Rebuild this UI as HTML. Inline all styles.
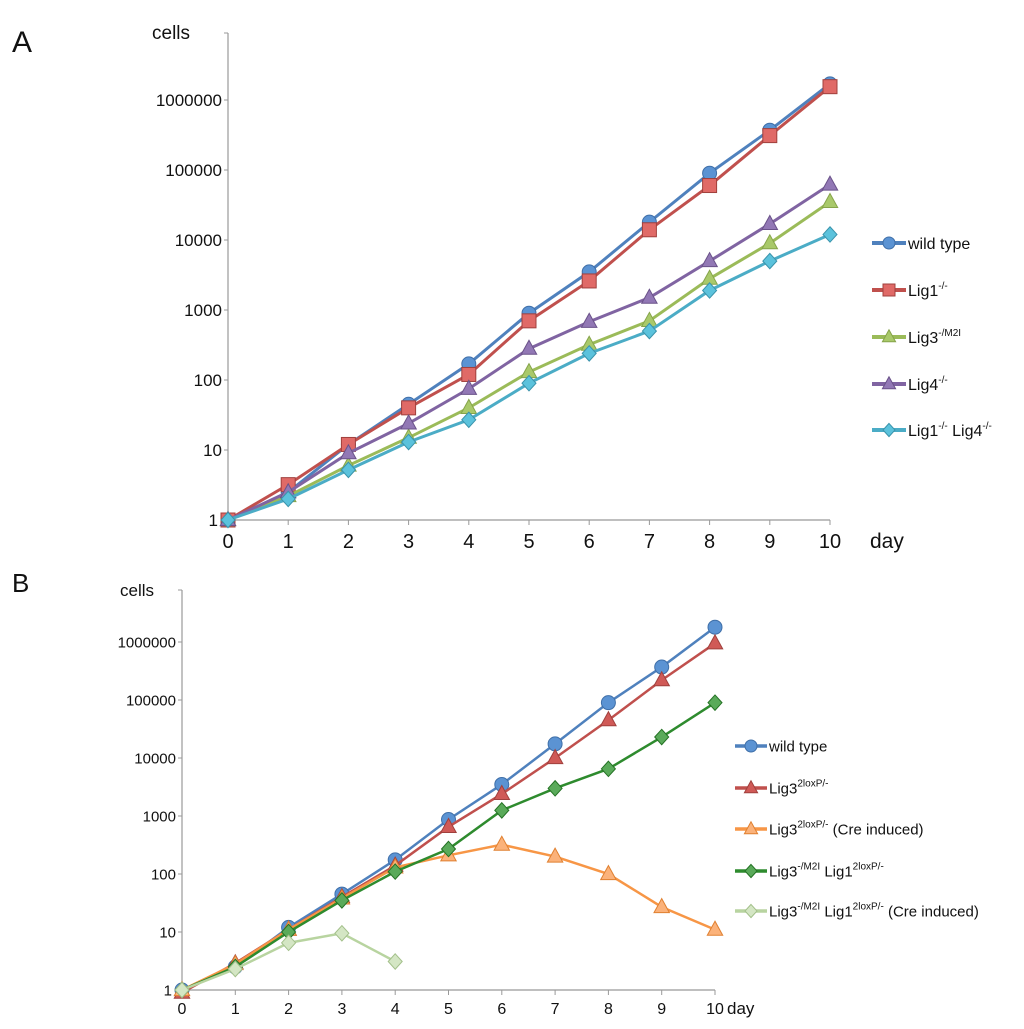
<!DOCTYPE html>
<html><head><meta charset="utf-8">
<style>
html,body{margin:0;padding:0;background:#fff;}
svg{display:block;font-family:"Liberation Sans",sans-serif;}
</style></head>
<body>
<svg id="fig" width="1024" height="1029" viewBox="0 0 1024 1029" xmlns="http://www.w3.org/2000/svg">
<text x="12" y="52" font-size="30" fill="#111">A</text>
<text x="12" y="592" font-size="26" fill="#111">B</text>
<g id="pa"></g>
<g id="pb"></g>
</svg>
<script>
const days = [0,1,2,3,4,5,6,7,8,9,10];
const yTicks = [1,10,100,1000,10000,100000,1000000];
// Panel A series
const aWild = [1,2.5,12,45,170,900,3500,18000,90000,370000,1700000];
const aLig1 = [1,3.2,12,40,120,700,2600,14000,60000,310000,1550000];
const aLig3 = [1,2.2,6,15,40,130,320,700,2800,9000,35000];
const aLig4 = [1,2.5,9,24,75,280,680,1500,5000,17000,62000];
const aLig1Lig4 = [1,2,5.2,13,27,90,240,500,1900,5000,12000];
// Panel B series
const bWild = [1,2.5,12,45,175,870,3500,17500,90000,370000,1800000];
const bLig3lox = [0.9,2.9,11,40,140,650,2400,10000,45000,220000,950000];
const bLig3Cre = [1,2.8,11,38,130,210,320,200,100,27,11];
const bLig3Lig1 = [1,2.5,10,35,110,270,1250,3000,6500,23000,90000];
const bLig3Lig1Cre = [1,2.3,6.5,9.5,3.1];

const NS="http://www.w3.org/2000/svg";
function mk(parent,tag,attrs){const e=document.createElementNS(NS,tag);for(const k in attrs)e.setAttribute(k,attrs[k]);parent.appendChild(e);return e;}

function marker(g,shape,x,y,s,fill,stroke){
  let e;
  if(shape==='circle'){e=mk(g,'circle',{cx:x,cy:y,r:s,fill:fill,stroke:stroke,'stroke-width':1});}
  else if(shape==='square'){e=mk(g,'rect',{x:x-s,y:y-s,width:2*s,height:2*s,fill:fill,stroke:stroke,'stroke-width':1});}
  else if(shape==='triangle'){e=mk(g,'polygon',{points:`${x},${y-s*1.2} ${x-s*1.1},${y+s*0.8} ${x+s*1.1},${y+s*0.8}`,fill:fill,stroke:stroke,'stroke-width':1});}
  else {e=mk(g,'polygon',{points:`${x},${y-s*1.1} ${x+s},${y} ${x},${y+s*1.1} ${x-s},${y}`,fill:fill,stroke:stroke,'stroke-width':1});}
  return e;
}

function chart(g,cfg){
  const X=d=>cfg.x0+d*(cfg.x1-cfg.x0)/10;
  const Y=v=>cfg.y1-Math.log10(v)*cfg.dec;
  const ya=mk(g,'line',{x1:cfg.x0,y1:cfg.top,x2:cfg.x0,y2:cfg.y1,stroke:'#999','stroke-width':1.2});
  
  
  const xa=mk(g,'line',{x1:cfg.x0,y1:cfg.y1,x2:cfg.x1,y2:cfg.y1,stroke:'#999','stroke-width':1.2});
  
  
  mk(g,'line',{x1:cfg.x0-4,y1:cfg.top,x2:cfg.x0,y2:cfg.top,stroke:'#999'});
  yTicks.forEach(v=>{
    mk(g,'line',{x1:cfg.x0-4,y1:Y(v),x2:cfg.x0,y2:Y(v),stroke:'#999'});
    const t=mk(g,'text',{x:cfg.x0-(v===1?10:6),y:Y(v)+cfg.fs*0.36,'text-anchor':'end','font-size':cfg.fs,fill:'#111'});
    t.textContent=String(v);
    
    
  });
  days.forEach(d=>{
    mk(g,'line',{x1:X(d),y1:cfg.y1,x2:X(d),y2:cfg.y1+5,stroke:'#999'});
    const t=mk(g,'text',{x:X(d),y:cfg.y1+cfg.xfs+8,'text-anchor':'middle','font-size':cfg.xfs,fill:'#111'});
    t.textContent=String(d);
    
    
  });
  const yt=mk(g,'text',{x:cfg.ytx,y:cfg.top+6,'font-size':cfg.fs+2,fill:'#111'});
  yt.textContent='cells';
  
  
  const xt=mk(g,'text',{x:cfg.x1+cfg.xtOff,y:cfg.y1+cfg.xfs+8,'font-size':cfg.xfs+1,fill:'#111'});
  xt.textContent='day';
  
  
  cfg.series.forEach((s,i)=>{
    const sg=mk(g,'g',{});
    
    
    const pts=s.data.map((v,j)=>X(days[j])+','+Y(v)).join(' ');
    mk(sg,'polyline',{points:pts,fill:'none',stroke:s.color,'stroke-width':cfg.lw});
    s.data.forEach((v,j)=>{
      const m=marker(sg,s.shape,X(days[j]),Y(v),cfg.ms,s.fill,s.edge);
      
      
    });
    const ly=cfg.legY[i];
    const lg=mk(g,'g',{});
    
    
    mk(lg,'line',{x1:cfg.legX,y1:ly,x2:cfg.legX+cfg.legW,y2:ly,stroke:s.color,'stroke-width':cfg.lw+1});
    marker(lg,s.shape,cfg.legX+cfg.legW/2,ly,cfg.ms-1,s.fill,s.edge);
    const t=mk(lg,'text',{x:cfg.legX+cfg.legW+2,y:ly+cfg.lfs*0.38,'font-size':cfg.lfs,fill:'#111'});
    t.innerHTML=s.label;
  });
}

const sup=(a)=>`<tspan dy="-7" font-size="10">${a}</tspan><tspan dy="7"> </tspan>`;
chart(document.getElementById('pa'),{
  x0:228,x1:830,y1:520,dec:70,top:33,fs:17,xfs:20,lw:3,ms:7,ytx:152,xtOff:40,
  legX:872,legW:34,lfs:16,legY:[243,290,337,384,430],
  series:[
    {id:'wild-type',data:aWild,color:'#4f81bd',fill:'#5b93d3',edge:'#3f6fa8',shape:'circle',label:'wild type'},
    {id:'lig1',data:aLig1,color:'#c0504d',fill:'#e06a67',edge:'#a0403d',shape:'square',label:'Lig1'+sup('-/-')},
    {id:'lig3',data:aLig3,color:'#9bbb59',fill:'#a9c96a',edge:'#86a44a',shape:'triangle',label:'Lig3'+sup('-/M2I')},
    {id:'lig4',data:aLig4,color:'#8064a2',fill:'#9278b5',edge:'#6a5289',shape:'triangle',label:'Lig4'+sup('-/-')},
    {id:'lig1-lig4',data:aLig1Lig4,color:'#4bacc6',fill:'#5bc2dc',edge:'#3a93ab',shape:'diamond',label:'Lig1'+sup('-/-')+'Lig4'+sup('-/-')}
  ]
});
chart(document.getElementById('pb'),{
  x0:182,x1:715,y1:990,dec:58,top:590,fs:15,xfs:16,lw:2.5,ms:7,ytx:120,xtOff:12,
  legX:735,legW:32,lfs:15,legY:[746,788,829,871,911],
  series:[
    {id:'wild-type-b',data:bWild,color:'#4f81bd',fill:'#5b93d3',edge:'#3f6fa8',shape:'circle',label:'wild type'},
    {id:'lig3-2loxp',data:bLig3lox,color:'#c0504d',fill:'#d05a57',edge:'#a0403d',shape:'triangle',label:'Lig3'+sup('2loxP/-')},
    {id:'lig3-2loxp-cre',data:bLig3Cre,color:'#f79646',fill:'#fbb27a',edge:'#e08030',shape:'triangle',label:'Lig3'+sup('2loxP/-')+' (Cre induced)'},
    {id:'lig3-lig1',data:bLig3Lig1,color:'#2e8b2e',fill:'#5aaa5a',edge:'#247224',shape:'diamond',label:'Lig3'+sup('-/M2I')+'Lig1'+sup('2loxP/-')},
    {id:'lig3-lig1-cre',data:bLig3Lig1Cre,color:'#b8d4a0',fill:'#d4e6c4',edge:'#a3c08a',shape:'diamond',label:'Lig3'+sup('-/M2I')+'Lig1'+sup('2loxP/-')+' (Cre induced)'}
  ]
});
</script>
</body></html>
